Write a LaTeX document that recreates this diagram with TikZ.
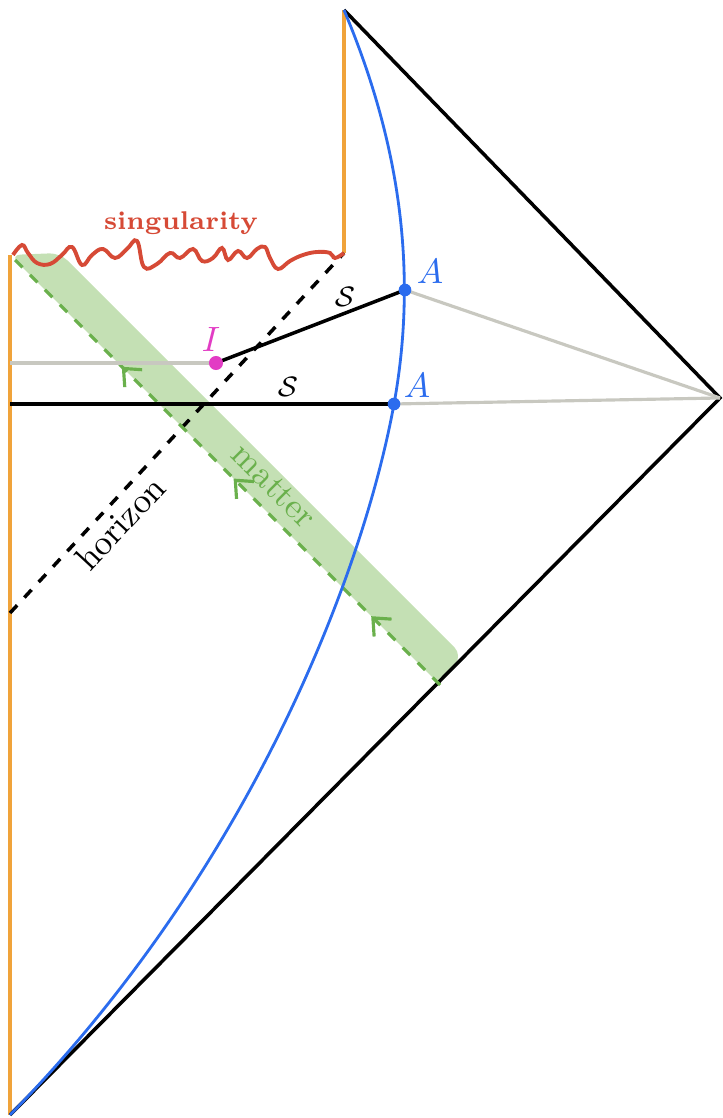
\documentclass[tikz,border=0pt]{standalone}
\usepackage{amsmath,amssymb,xcolor}
\definecolor{bhorange}{RGB}{240,163,58}
\definecolor{bhblue}{RGB}{43,108,238}
\definecolor{bhred}{RGB}{214,74,54}
\definecolor{bhmagenta}{RGB}{226,60,196}
\definecolor{bhgreen}{RGB}{106,176,76}
\definecolor{bhgreenfill}{RGB}{196,224,180}
\definecolor{bhgray}{RGB}{200,200,192}
\usetikzlibrary{arrows.meta,positioning,calc,decorations.markings}

\begin{document}
\begin{tikzpicture}[
  bhedge/.style={line width=1.1pt,bhorange},
  bhnull/.style={line width=1pt,black,line join=miter},
  bhslice/.style={line width=1pt,black},
  bhgrayline/.style={line width=0.9pt,bhgray},
  bhcurve/.style={line width=0.8pt,bhblue},
  bhdot/.style={circle,fill=#1,inner sep=0pt,minimum size=3.6pt},
  bhmatter/.style={line width=0.9pt,bhgreen,dashed,postaction={decorate},
    decoration={markings,
      mark=at position 0.16 with {\arrow{Straight Barb[length=4pt,width=7pt]}},
      mark=at position 0.48 with {\arrow{Straight Barb[length=4pt,width=7pt]}},
      mark=at position 0.74 with {\arrow{Straight Barb[length=4pt,width=7pt]}}}}
]
  \useasboundingbox (-0.10,-0.03) rectangle (7.12,11.15);
  % corners of the diagram
  \coordinate (B) at (0,0);
  \coordinate (R) at (7.10,7.17);
  \coordinate (T) at (3.34,11.05);
  \coordinate (singL) at (0,8.60);
  \coordinate (singR) at (3.34,8.62);
  \coordinate (horL) at (0,5.02);
  \coordinate (mattL) at (0,8.60);
  \coordinate (mattR) at (4.30,4.30);
  \coordinate (grayL) at (0,7.52);
  \coordinate (sliceL) at (0,7.11);
  \coordinate (a1) at (3.95,8.25);
  \coordinate (a2) at (3.84,7.11);
  \coordinate (i) at (2.06,7.52);
  % matter shell
  \fill[bhgreenfill,rounded corners=3pt] (mattL) -- (mattR) -- (4.52,4.60) -- (0.50,8.62) -- cycle;
  % boundaries
  \draw[bhedge] (B) -- (singL);
  \draw[bhedge] (singR) -- (T);
  \draw[bhnull] (T) -- (R) -- (B);
  \draw[bhslice,dashed] (horL) -- (singR);
  \draw[bhmatter] (mattR) -- (mattL);
  % singularity
  \draw[line width=1.1pt,bhred] plot[smooth,tension=0.7] coordinates {(0.03,8.60) (0.12,8.70) (0.18,8.62) (0.27,8.52)
    (0.40,8.51) (0.52,8.60) (0.62,8.68) (0.72,8.50) (0.82,8.60) (0.93,8.66) (1.05,8.57) (1.17,8.66)
    (1.27,8.74) (1.34,8.48) (1.47,8.51) (1.60,8.62) (1.70,8.57) (1.83,8.66) (1.92,8.54) (2.03,8.57)
    (2.12,8.67) (2.18,8.55) (2.28,8.64) (2.37,8.57) (2.47,8.66) (2.55,8.68) (2.60,8.57) (2.68,8.46)
    (2.80,8.54) (2.93,8.60) (3.07,8.63) (3.20,8.62) (3.25,8.57) (singR)};
  % slices
  \draw[bhgrayline] (grayL) -- (i);
  \draw[bhgrayline] (a1) -- (R);
  \draw[bhgrayline] (a2) -- (R);
  \draw[bhslice] (i) -- (a1);
  \draw[bhslice] (sliceL) -- (a2);
  % surface
  \draw[bhcurve] (B) .. controls (2.4,2.45) and (3.53,5.41) .. (a2)
    .. controls (4.13,8.71) and (3.76,10.05) .. (T);
  % points
  \node[bhdot=bhblue] (A1) at (a1) {};
  \node[bhdot=bhblue] (A2) at (a2) {};
  \node[bhdot=bhmagenta,minimum size=4pt] (I) at (i) {};
  % labels
  \node[text=bhblue] (A1lab) at (4.20,8.43) {$A$};
  \node[text=bhblue] (A2lab) at (4.07,7.29) {$A$};
  \node[text=bhmagenta] (Ilab) at (2.01,7.75) {$I$};
  \node[font=\footnotesize] (S1lab) at (3.35,8.18) {$\mathcal{S}$};
  \node[font=\footnotesize] (S2lab) at (2.78,7.28) {$\mathcal{S}$};
  \node[text=bhred,font=\fontsize{7.3}{9}\selectfont\bfseries] (singlab) at (1.71,8.92) {singularity};
  \node[rotate=47] (horlab) at (1.10,5.92) {horizon};
  \node[text=bhgreen,rotate=-45] (mattlab) at (2.64,6.29) {matter};
\end{tikzpicture}
\end{document}
